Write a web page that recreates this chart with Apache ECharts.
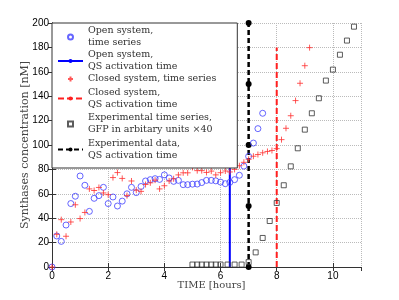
<!DOCTYPE html>
<html>
<head>
<meta charset="utf-8">
<script src="https://cdn.jsdelivr.net/npm/echarts@6/dist/echarts.min.js"></script>
<style>html,body{margin:0;padding:0;background:#fff}#c{width:399px;height:300px}</style>
</head>
<body>
<div id="c"></div>
<script>
// Simulation sampling times [hours]
var simTime = [0,0.17,0.33,0.5,0.67,0.83,1,1.17,1.33,1.5,1.67,1.83,2,2.17,2.33,2.5,2.67,2.83,3,3.17,3.33,3.5,3.67,3.83,4,4.17,4.33,4.5,4.67,4.83,5,5.17,5.33,5.5,5.67,5.83,6,6.17,6.33,6.5,6.67,6.83,7,7.17,7.33,7.5,7.67,7.83,8,8.17,8.33,8.5,8.67,8.83,9,9.17];
// Open system, time series [nM]
var openSeries = [0,25.4,21,34.4,52,58,74.6,67,45.6,56.3,58.5,65.3,52,57.4,50,54,60,65.3,61,66,70.5,71.6,72.4,71.8,75.5,73,70.2,71,67.5,67.5,67.9,68,69.2,71,71,70.6,69.6,68.3,69.4,71.6,75.2,82.7,90.7,101.6,113.4,126];
// Closed system, time series [nM]
var closedSeries = [0,26.8,38.8,25.2,36.9,51,39.7,44.7,64,62.7,65.2,60.7,59.3,73.3,77.4,72.6,58.5,70.5,63,62,67.6,69,71.2,64,66.6,70.5,72.3,75.5,77.2,77.2,81.6,79,79,77.5,78.6,75.5,77.3,78.7,77.9,80,83,85.8,88.3,90.8,92.2,93.6,94.7,95.5,97,104.4,113.7,124,136.4,150.6,165,179.8];
// Experimental time series (GFP, arbitrary units x40)
var expTime = [5,5.17,5.33,5.5,5.67,5.83,6,6.25,6.5,6.75,7,7.25,7.5,7.75,8,8.25,8.5,8.75,9,9.25,9.5,9.75,10,10.25,10.5,10.75];
var expSeries = [2,2,2,2,2,2,2,2,2,2,4,12,23.8,37.7,52.5,67,82.5,97.3,112.6,126,138.3,152.8,161.8,174,185.6,197];
// QS activation times [hours] and vertical extents
var openQS = 6.33, openQSTop = 126;
var closedQS = 8, closedQSTop = 180;
var expQS = 7, expQSLevels = [0,50,100,150,200];

var names = ['Open system,\ntime series','Open system,\nQS activation time','Closed system, time series','Closed system,\nQS activation time','Experimental time series,\nGFP in arbitary units \u00d740','Experimental data,\nQS activation time'];

function pairs(xs, ys){ var o=[]; for(var i=0;i<ys.length;i++) o.push([xs[i], ys[i]]); return o; }

var chart = echarts.init(document.getElementById('c'), null, {renderer:'canvas'});
var serif = 'DejaVu Serif';
var sans = 'Liberation Sans';
var frame = '#333';
var plus = 'path://M5,0L5,10M0,5L10,5';
var square = 'path://M0,0L10,0L10,10L0,10Z';

var option = {
  animation:false,
  backgroundColor:'#fff',
  grid:{left:52, right:38, top:23, bottom:33},
  legend:{
    orient:'vertical', left:52, top:23, z:10,
    data:[
      {name:names[0]},
      {name:names[1]},
      {name:names[2]},
      {name:names[3], textStyle:{padding:[3,0,0,0]}},
      {name:names[4]},
      {name:names[5], textStyle:{padding:[3,0,0,0]}}
    ],
    backgroundColor:'#fff', borderColor:frame, borderWidth:1,
    padding:[2,21,5,5], itemGap:0, itemWidth:25, itemHeight:5,
    textStyle:{fontFamily:serif, fontSize:9.5, lineHeight:12, color:'#333'}
  },
  xAxis:[{
    type:'value', min:0, max:11, interval:2,
    name:'TIME [hours]', nameLocation:'middle', nameGap:13, nameMoveOverlap:false,
    nameTextStyle:{fontFamily:serif, fontSize:10, color:'#444', padding:[0,0,0,10]},
    axisLine:{onZero:false, lineStyle:{color:frame, width:1}},
    axisTick:{inside:true, length:4, lineStyle:{color:frame}},
    axisLabel:{showMaxLabel:false, fontFamily:sans, fontSize:10, color:'#000', margin:4},
    splitLine:{show:true, lineStyle:{type:'dotted', color:'#bbb', width:1}}
  },{
    type:'value', min:0, max:11, interval:2, position:'top',
    axisLine:{lineStyle:{color:frame, width:1}},
    axisTick:{inside:true, length:4, lineStyle:{color:frame}},
    axisLabel:{show:false}, splitLine:{show:false}
  }],
  yAxis:[{
    type:'value', min:0, max:200, interval:20,
    name:'Synthases concentration [nM]', nameLocation:'middle', nameGap:21, nameMoveOverlap:false,
    nameTextStyle:{fontFamily:serif, fontSize:11, color:'#444'},
    axisLine:{show:true, onZero:false, lineStyle:{color:frame, width:1}},
    axisTick:{show:true, inside:true, length:4, lineStyle:{color:frame}},
    axisLabel:{fontFamily:sans, fontSize:10, color:'#000', margin:3},
    splitLine:{show:true, lineStyle:{type:'dotted', color:'#bbb', width:1}}
  },{
    type:'value', min:0, max:200, interval:20, position:'right',
    axisLine:{show:true, lineStyle:{color:frame, width:1}},
    axisTick:{show:true, inside:true, length:4, lineStyle:{color:frame}},
    axisLabel:{show:false}, splitLine:{show:false}
  }],
  series:[
    {name:names[0], type:'scatter', data:pairs(simTime, openSeries), symbol:'circle', symbolSize:6,
     itemStyle:{color:'none', borderColor:'#4040ff', borderWidth:1}, z:3},
    {name:names[1], type:'line', data:[[openQS,0],[openQS,openQSTop]], symbol:'none',
     lineStyle:{color:'#0000ff', width:2}, itemStyle:{color:'#0000ff'}, z:2},
    {name:names[2], type:'scatter', data:pairs(simTime, closedSeries), symbol:plus, symbolSize:6,
     itemStyle:{color:'none', borderColor:'#ff3030', borderWidth:1}, z:3},
    {name:names[3], type:'line', data:[[closedQS,0],[closedQS,closedQSTop]], symbol:'none',
     lineStyle:{color:'#ff2020', width:2, type:[6,3]}, itemStyle:{color:'#ff2020'}, z:2},
    {name:names[4], type:'scatter', data:pairs(expTime, expSeries), symbol:square, symbolSize:5, symbolKeepAspect:true,
     itemStyle:{color:'none', borderColor:'#333', borderWidth:1}, z:3},
    {name:names[5], type:'line', data:expQSLevels.map(function(v){return [expQS, v];}), symbol:'circle', symbolSize:6,
     showSymbol:true, lineStyle:{color:'#000', width:2.5, type:[5,3]}, itemStyle:{color:'#000'}, z:2}
  ]
};
chart.setOption(option);
</script>
</body>
</html>
